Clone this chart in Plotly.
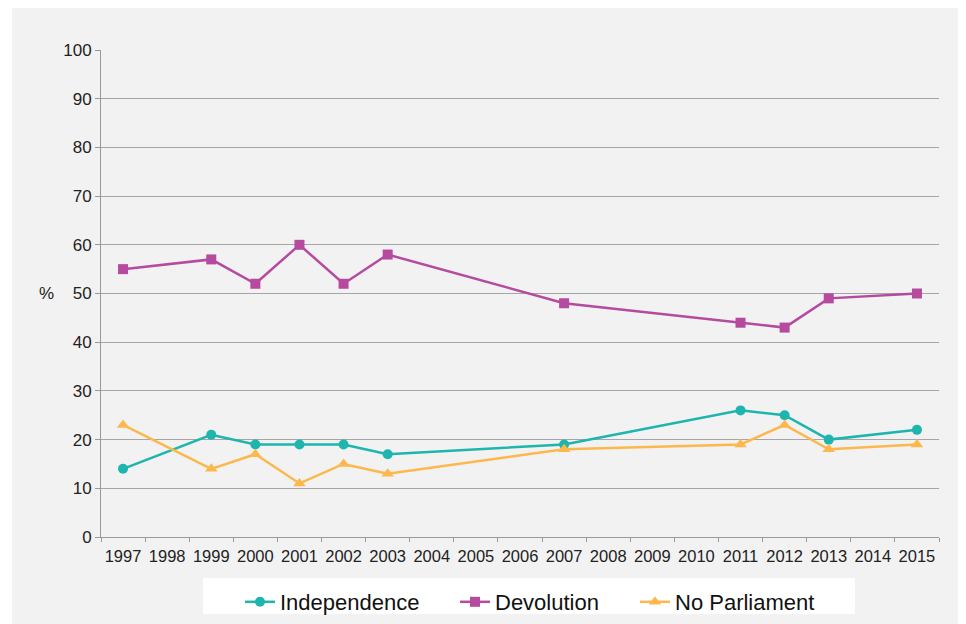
import plotly.graph_objects as go

categories = [str(y) for y in range(1997, 2016)]
survey_years = ["1997", "1999", "2000", "2001", "2002", "2003", "2007", "2011", "2012", "2013", "2015"]
independence = [14, 21, 19, 19, 19, 17, 19, 26, 25, 20, 22]
devolution = [55, 57, 52, 60, 52, 58, 48, 44, 43, 49, 50]
no_parliament = [23, 14, 17, 11, 15, 13, 18, 19, 23, 18, 19]
y_ticks = list(range(0, 101, 10))

FONT = "Liberation Sans, Arial, Helvetica, sans-serif"

# page has an 8px body margin; figure occupies page 8..966 x 8..624
OFF = 8
W, H = 966 - OFF, 624 - OFF
L, R, T, B = 101 - OFF, 27, 50 - OFF, 87
pw, ph = W - L - R, H - T - B


def px(xp):  # page x -> paper
    return (xp - OFF - L) / pw


def py(yp):  # page y -> paper
    return 1 - (yp - OFF - T) / ph


fig = go.Figure()
series = [
    ("Independence", independence, "#1db5ad", "circle", 10, "legend", 240),
    ("Devolution", devolution, "#b54a9e", "square", 10, "legend2", 455),
    ("No Parliament", no_parliament, "#fdb84d", "triangle-up", 11, "legend3", 635),
]
legends = {}
for name, vals, color, sym, size, leg, lx in series:
    fig.add_trace(go.Scatter(
        x=survey_years, y=vals, name=name, mode="lines+markers",
        line=dict(color=color, width=2.5),
        marker=dict(symbol=sym, size=size, color=color),
        legend=leg,
    ))
    legends[leg] = dict(orientation="h", x=px(lx), xanchor="left",
                        yref="container", y=1 - (581 - OFF) / H, yanchor="top",
                        bgcolor="rgba(0,0,0,0)",
                        font=dict(family=FONT, size=22, color="#111111"),
                        itemwidth=30)

fig.add_shape(type="rect", xref="paper", yref="paper",
              x0=px(12), x1=px(980), y0=py(640), y1=py(8),
              fillcolor="#f2f2f2", line=dict(width=0), layer="below")
fig.add_shape(type="rect", xref="paper", yref="paper",
              x0=px(203), x1=px(855), y0=py(614), y1=py(578),
              fillcolor="white", line=dict(width=0), layer="below")

fig.add_annotation(text="%", xref="paper", yref="paper",
                   x=px(47), y=0.5, showarrow=False,
                   xanchor="center", yanchor="middle",
                   font=dict(family=FONT, size=17, color="#222222"))

fig.update_layout(
    width=W, height=H,
    margin=dict(l=L, r=R, t=T, b=B, autoexpand=False),
    paper_bgcolor="white", plot_bgcolor="#f2f2f2",
    font=dict(family=FONT, size=17, color="#222222"),
    showlegend=True,
    xaxis=dict(type="category", categoryorder="array", categoryarray=categories,
               tickvals=categories, ticktext=categories,
               range=[-0.5, len(categories) - 0.5], tickangle=0,
               showgrid=False, showline=True, linecolor="#999999", linewidth=1,
               ticks="outside", tickson="boundaries", ticklen=4, tickcolor="#999999",
               ticklabelstandoff=4,
               tickfont=dict(size=16.5), zeroline=False),
    yaxis=dict(range=[0, 100], tickvals=y_ticks, showgrid=True, gridcolor="#a6a6a6",
               gridwidth=1, showline=True, linecolor="#999999", linewidth=1,
               ticks="outside", ticklen=5, tickcolor="#999999",
               tickfont=dict(size=17), zeroline=False),
    **legends,
)

fig.write_html("out.html")
